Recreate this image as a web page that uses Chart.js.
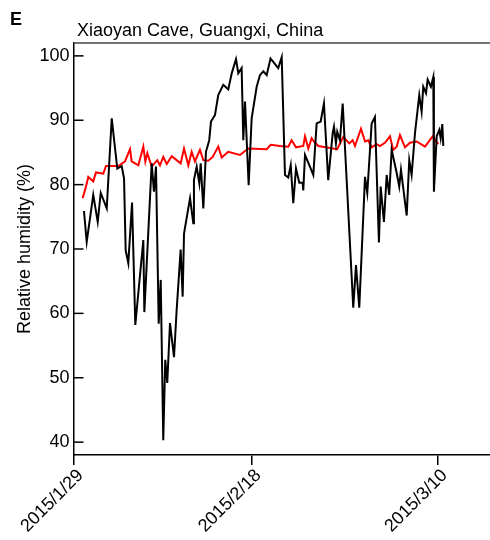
<!DOCTYPE html>
<html><head><meta charset="utf-8">
<script src="https://cdn.jsdelivr.net/npm/chart.js@4/dist/chart.umd.min.js"></script>
<style>html,body{margin:0;padding:0;background:#fff}canvas{display:block}</style>
</head><body>
<canvas id="c" width="490" height="540"></canvas>
<script>
const panelLetter = 'E';
const chartTitle = 'Xiaoyan Cave, Guangxi, China';
const yAxisTitle = 'Relative humidity (%)';
const xTickDays = [0, 19.53, 40];
const xTickLabels = ['2015/1/29', '2015/2/18', '2015/3/10'];
const yTicks = [40, 50, 60, 70, 80, 90, 100];

// black series (days since 2015/1/29, RH %)
const blackDays = [1.15,1.45,2.17,2.66,2.99,3.65,4.20,4.81,5.29,5.55,5.73,6.02,6.43,6.79,7.67,7.78,8.59,8.84,9.06,9.36,9.58,9.86,10.08,10.30,10.60,11.04,11.33,11.77,11.99,12.14,12.80,13.16,13.23,13.53,13.82,13.97,14.26,14.55,14.91,15.10,15.54,15.90,16.45,17.00,17.38,17.85,18.10,18.47,18.65,18.84,19.24,19.57,20.12,20.48,20.85,21.22,21.64,22.49,22.87,23.23,23.59,23.86,24.14,24.44,24.80,25.17,25.24,25.43,25.97,26.34,26.71,27.15,27.51,27.98,28.47,28.61,28.83,28.97,29.27,29.57,30.73,31.03,31.39,32.02,32.27,32.75,33.11,33.55,33.74,34.10,34.40,34.68,34.95,35.50,35.78,35.97,36.60,36.88,37.14,37.51,37.98,38.24,38.42,38.72,38.90,39.26,39.52,39.59,39.89,40.18,40.33,40.51,40.62];
const blackRH = [75.9,71.1,78.4,74.2,78.7,76.3,90.3,82.5,82.9,81.0,69.8,67.8,77.2,58.2,71.4,60.2,83.3,78.9,82.8,58.4,65.2,40.3,52.8,49.2,58.5,53.2,60.5,69.9,62.6,72.4,77.9,74.0,80.7,82.8,80.2,83.3,76.3,85.1,86.9,89.8,90.8,93.9,95.5,94.8,97.3,99.5,97.3,98.1,86.9,92.9,79.9,90.3,95.2,97.0,97.6,97.0,99.6,98.1,99.8,81.5,81.1,83.0,77.1,82.5,80.3,80.3,79.1,84.6,82.8,81.5,89.5,89.8,92.6,80.7,88.0,89.0,86.4,88.2,86.9,92.6,60.9,67.5,60.9,81.2,78.7,89.5,90.5,71.0,79.7,74.2,81.5,78.4,85.4,81.8,79.7,82.3,75.2,83.8,81.5,88.0,93.9,91.3,95.2,94.2,96.3,95.2,96.7,78.9,87.5,88.5,87.2,89.4,86.0];

// red series
const redDays = [1.01,1.37,1.63,2.17,2.47,3.27,3.57,4.92,5.66,6.21,6.39,7.12,7.67,7.89,8.11,8.59,9.20,9.50,9.86,10.24,10.79,11.77,12.14,12.61,12.98,13.34,13.89,14.26,14.81,15.29,15.90,16.28,17.00,18.29,19.20,21.22,21.66,22.68,23.59,23.96,24.44,25.24,25.43,25.79,26.16,26.41,26.89,28.97,29.63,30.29,30.66,30.92,31.58,32.02,32.38,32.75,33.30,33.66,34.21,34.76,35.12,35.50,35.86,36.41,36.96,37.69,38.61,39.45,40.07];
const redRH = [77.9,79.7,81.2,80.5,81.9,81.7,82.9,82.9,83.6,85.5,83.6,83.0,85.9,83.6,84.9,82.8,83.8,83.0,84.3,83.2,84.4,83.3,85.6,83.0,85.1,83.6,85.4,83.8,83.7,84.3,85.9,84.2,85.1,84.6,85.6,85.5,86.2,86.0,85.9,86.9,85.8,86.0,87.5,85.6,87.2,86.7,86.0,85.5,87.4,86.4,86.9,86.0,88.7,86.7,86.9,85.8,86.3,86.0,86.5,87.5,85.4,85.9,87.7,85.8,86.5,86.7,85.9,87.5,86.3];

const FONT = '"Liberation Sans", Arial, sans-serif';

const framePlugin = {
  id: 'frame',
  afterDraw(chart) {
    const {ctx, chartArea: a, scales: {y}} = chart;
    ctx.save();
    ctx.strokeStyle = '#000';
    ctx.lineWidth = 1.5;
    yTicks.forEach(v => {
      const p = y.getPixelForValue(v);
      ctx.beginPath();
      ctx.moveTo(a.left, p);
      ctx.lineTo(a.left + 10, p);
      ctx.stroke();
    });
    ctx.strokeStyle = '#444';
    ctx.beginPath();
    ctx.moveTo(a.left, a.top);
    ctx.lineTo(a.right, a.top);
    ctx.stroke();
    ctx.fillStyle = '#000';
    ctx.textBaseline = 'alphabetic';
    ctx.textAlign = 'left';
    ctx.font = 'bold 18px ' + FONT;
    ctx.fillText(panelLetter, 10, 25);
    ctx.font = '18px ' + FONT;
    ctx.fillText(chartTitle, 77, 36);
    ctx.restore();
  }
};

new Chart(document.getElementById('c'), {
  type: 'line',
  data: {
    datasets: [
      {
        data: blackDays.map((d, i) => ({x: d, y: blackRH[i]})),
        borderColor: '#000', borderWidth: 2, pointRadius: 0, tension: 0, fill: false
      },
      {
        data: redDays.map((d, i) => ({x: d, y: redRH[i]})),
        borderColor: '#ff0000', borderWidth: 2, pointRadius: 0, tension: 0, fill: false
      }
    ]
  },
  options: {
    responsive: false,
    devicePixelRatio: 1,
    animation: false,
    events: [],
    layout: {padding: {top: 43, left: 0, right: 0, bottom: 0}},
    plugins: {legend: {display: false}, tooltip: {enabled: false}, title: {display: false}},
    scales: {
      x: {
        type: 'linear', min: 0, max: 45.75,
        afterFit(s) { s.height = 85; },
        afterBuildTicks(s) { s.ticks = xTickDays.map(v => ({value: v})); },
        grid: {display: true, drawOnChartArea: false, drawTicks: true, tickLength: 10, color: '#000', lineWidth: 1.5},
        border: {display: true, color: '#000', width: 1.5},
        ticks: {
          autoSkip: false, maxRotation: 45, minRotation: 45, padding: 0, labelOffset: 7,
          color: '#000', font: {family: FONT, size: 18},
          callback(v) { const i = xTickDays.indexOf(v); return i >= 0 ? xTickLabels[i] : ''; }
        }
      },
      y: {
        type: 'linear', min: 38, max: 102,
        afterFit(s) { s.width = 73.5; },
        afterBuildTicks(s) { s.ticks = yTicks.map(v => ({value: v})); },
        grid: {display: true, drawOnChartArea: false, drawTicks: false},
        border: {display: true, color: '#000', width: 1.5},
        ticks: {padding: 4, color: '#000', font: {family: FONT, size: 18}},
        title: {display: true, text: yAxisTitle, color: '#000', font: {family: FONT, size: 18}, padding: {top: 14, bottom: 0}}
      }
    }
  },
  plugins: [framePlugin]
});
</script>
</body></html>
